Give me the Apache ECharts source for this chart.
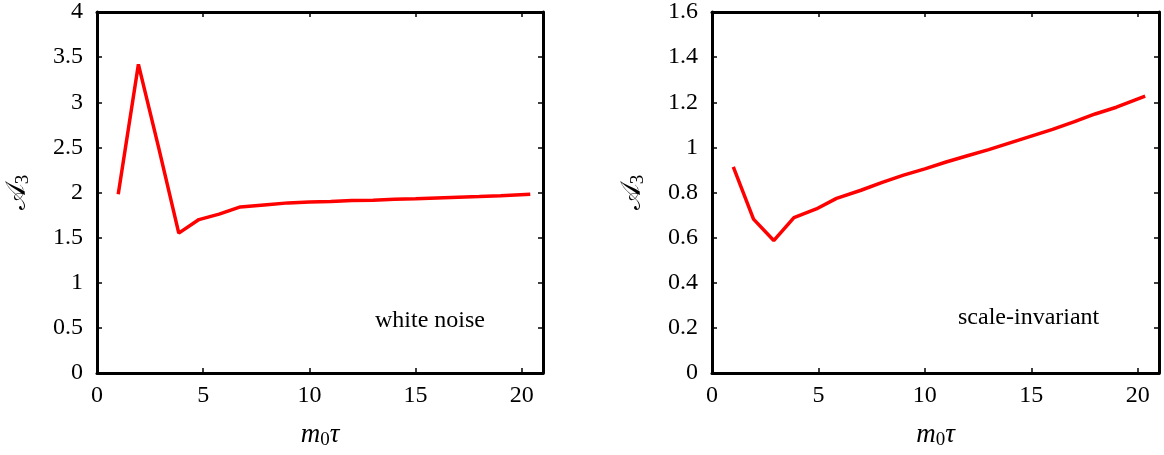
<!DOCTYPE html>
<html>
<head>
<meta charset="utf-8">
<script src="https://cdn.jsdelivr.net/npm/echarts@6/dist/echarts.min.js"></script>
<style>
html,body{margin:0;padding:0;background:#fff;}
#main{width:1164px;height:455px;}
</style>
</head>
<body>
<div id="main"></div>
<script>
// white noise panel
var xWhite = [1, 1.95, 2.9, 3.85, 4.8, 5.75, 6.75, 8, 9, 10, 11, 12, 13, 14, 15, 16, 17, 18, 19, 20.4];
var yWhite = [1.98, 3.42, 2.50, 1.55, 1.70, 1.76, 1.84, 1.865, 1.885, 1.895, 1.90, 1.91, 1.915, 1.925, 1.932, 1.94, 1.948, 1.955, 1.965, 1.98];
// scale-invariant panel
var xScale = [1, 1.95, 2.9, 3.85, 4.9, 5.85, 7, 8, 9, 10, 11, 12, 13, 14, 15, 16, 17, 18, 19, 20.35];
var yScale = [0.914, 0.682, 0.587, 0.689, 0.727, 0.774, 0.81, 0.845, 0.877, 0.905, 0.935, 0.963, 0.99, 1.02, 1.05, 1.08, 1.113, 1.148, 1.178, 1.227];

var xTicks = [0, 5, 10, 15, 20];

var FONT = '"Liberation Serif", "DejaVu Serif", serif';

function pairs(xs, ys){
	var out = [];
	for(var i=0;i<xs.length;i++){ out.push([xs[i], ys[i]]); }
	return out;
}

function fmtNum(v){
	return String(Math.round(v*10)/10);
}

var richName = {
	i: {fontFamily: FONT, fontStyle: 'italic', fontSize: 27, color: '#000'},
	cal: {fontFamily: FONT, fontSize: 28, color: '#000'},
	sub: {fontFamily: FONT, fontSize: 19, color: '#000', verticalAlign: 'bottom', padding: [12,0,0,0]}
};

function makeX(gi, top){
	return {
		type: 'value', gridIndex: gi, min: 0, max: 21, interval: 5,
		position: top ? 'top' : 'bottom',
		name: top ? '' : '{i|m}{sub|0}{i|τ}',
		nameLocation: 'middle', nameGap: 46,
		nameTextStyle: {rich: richName},
		axisLine: {show: true, onZero: false, lineStyle: {color: '#000', width: 3}},
		axisTick: {show: true, inside: true, length: 5, lineStyle: {color: '#000', width: 1.5},
			customValues: xTicks},
		axisLabel: {show: !top, margin: 11, fontFamily: FONT, fontSize: 24, color: '#000',
			customValues: xTicks, formatter: fmtNum},
		splitLine: {show: false}
	};
}

function makeY(gi, right, max, interval){
	return {
		type: 'value', gridIndex: gi, min: 0, max: max, interval: interval,
		position: right ? 'right' : 'left',
		name: right ? '' : '{cal|𝒜}{sub|3}',
		nameLocation: 'middle', nameGap: 64, nameRotate: 90,
		nameTextStyle: {rich: richName},
		axisLine: {show: true, onZero: false, lineStyle: {color: '#000', width: 3}},
		axisTick: {show: true, inside: true, length: 5, lineStyle: {color: '#000', width: 1.5}},
		axisLabel: {show: !right, margin: 14, fontFamily: FONT, fontSize: 24, color: '#000',
			formatter: fmtNum},
		splitLine: {show: false}
	};
}

var myChart = echarts.init(document.getElementById('main'));
var option = {
	animation: false,
	backgroundColor: '#fff',
	grid: [
		{left: 97, right: 621, top: 11, bottom: 81},
		{left: 712, right: 5, top: 11, bottom: 81}
	],
	xAxis: [makeX(0, false), makeX(0, true), makeX(1, false), makeX(1, true)],
	yAxis: [makeY(0, false, 4, 0.5), makeY(0, true, 4, 0.5), makeY(1, false, 1.6, 0.2), makeY(1, true, 1.6, 0.2)],
	series: [
		{type: 'line', xAxisIndex: 0, yAxisIndex: 0, data: pairs(xWhite, yWhite), showSymbol: false,
			lineStyle: {color: '#ff0000', width: 3.5}},
		{type: 'line', xAxisIndex: 2, yAxisIndex: 2, data: pairs(xScale, yScale), showSymbol: false,
			lineStyle: {color: '#ff0000', width: 3.5}}
	],
	graphic: [
		{type: 'text', left: 375, top: 309, style: {text: 'white noise', font: '24px ' + FONT, fill: '#000'}},
		{type: 'text', left: 958, top: 306, style: {text: 'scale-invariant', font: '24px ' + FONT, fill: '#000'}}
	]
};
myChart.setOption(option);
</script>
</body>
</html>
